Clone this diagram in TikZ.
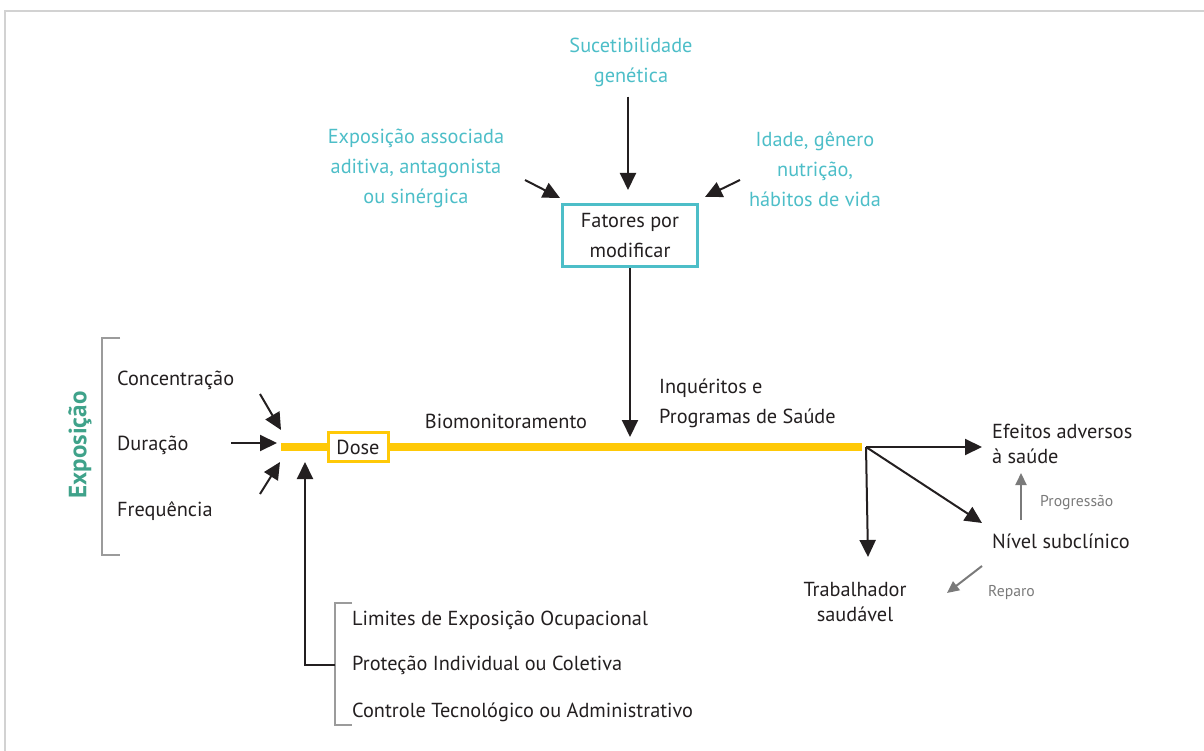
\documentclass[tikz,border=0pt]{standalone}
\usepackage{fontspec}
\setmainfont{PT Sans}
\usetikzlibrary{arrows.meta,positioning,calc}
\definecolor{txtdark}{HTML}{231F20}
\definecolor{modcyan}{HTML}{4DBEC8}
\definecolor{expgreen}{HTML}{3FA28A}
\definecolor{doseyellow}{HTML}{FFC907}
\definecolor{brackgray}{HTML}{9B9B9B}
\definecolor{arrgray}{HTML}{7A7A7A}

\tikzset{
  lbl/.style={font=\fontsize{20.3}{30}\selectfont, text=txtdark, inner sep=0pt},
  modlbl/.style={lbl, text=modcyan, align=center},
  smalllbl/.style={font=\fontsize{15.7}{18}\selectfont, text=arrgray, inner sep=0pt},
  arr/.style={-{Triangle[length=17pt,width=16pt]}, line width=2pt, txtdark},
  grayarr/.style={-{Triangle[length=12pt,width=11pt]}, line width=2pt, arrgray},
  brack/.style={brackgray, line width=2pt}
}

\begin{document}
\begin{tikzpicture}[x=1pt,y=-1pt]
    \useasboundingbox (0,0) rectangle (1204,751);
    % Frame
    \draw[gray!35, line width=1.5pt] (5,751) -- (5,11) -- (1204,11);

    % Modifying factors
    \node[modlbl] (genetica) at (631,62) {Sucetibilidade\\genética};
    \node[modlbl] (associada) at (416,168) {Exposição associada\\aditiva, antagonista\\ou sinérgica};
    \node[modlbl] (idade) at (815,169) {Idade, gênero\\nutrição,\\hábitos de vida};
    \node[lbl, draw=modcyan, line width=3pt, align=center, minimum width=135pt, minimum height=62pt,
          font=\fontsize{20.3}{30}\selectfont] (fatores) at (630,236) {Fatores por\\modificar};

    \coordinate (gtip) at (628,190);
    \coordinate (atail) at (525,180);
    \coordinate (atip) at (560,198);
    \coordinate (itail) at (740,180);
    \coordinate (itip) at (705,197);
    \draw[arr] (genetica.south) ++(-3,10) -- (gtip);
    \draw[arr] (atail) -- (atip);
    \draw[arr] (itail) -- (itip);

    % Dose line
    \coordinate (linestart) at (281,447);
    \coordinate (lineend) at (866,447);
    \draw[doseyellow, line width=8pt] (linestart) -- (862,447);
    \node[lbl, draw=doseyellow, fill=white, line width=3pt, minimum width=60pt, minimum height=29pt] (dose) at (358,447) {Dose};
    \node[lbl] (biomon) at (506,421) {Biomonitoramento};
    \node[lbl, anchor=west, align=left] (inqueritos) at (659,403) {Inquéritos e\\Programas de Saúde};
    \coordinate (ftip) at (630,437);
    \draw[arr] (fatores.south) -- (ftip);

    % Exposure
    \node[lbl, anchor=west] (concentracao) at (117,380) {Concentração};
    \node[lbl, anchor=west] (duracao) at (117,445) {Duração};
    \node[lbl, anchor=west] (frequencia) at (117,511) {Frequência};
    \node[lbl, text=expgreen, font=\fontsize{25}{28}\selectfont\bfseries, rotate=90] (exposicao) at (80,445) {Exposição};
    \draw[brack] (120,338) -- (102,338) -- (102,555) -- (120,555);
    \draw[arr] (260,394) -- (281,430);
    \draw[arr] (231,443) -- (277,443);
    \draw[arr] (260,494) -- (280,462);

    % Control measures
    \node[lbl, anchor=west] (limites) at (352,620) {Limites de Exposição Ocupacional};
    \node[lbl, anchor=west] (protecao) at (352,665) {Proteção Individual ou Coletiva};
    \node[lbl, anchor=west] (controle) at (352,712) {Controle Tecnológico ou Administrativo};
    \draw[brack] (352,603) -- (335,603) -- (335,725) -- (352,725);
    \coordinate (ctail) at (335,665);
    \coordinate (ctip) at (305,462);
    \draw[arr] (ctail) -| (ctip);

    % Outcomes
    \node[lbl, anchor=west, align=left, font=\fontsize{20.3}{25}\selectfont] (efeitos) at (992,444) {Efeitos adversos\\à saúde};
    \node[lbl, anchor=west] (subclinico) at (992,541) {Nível subclínico};
    \node[lbl, align=center, font=\fontsize{20.3}{25}\selectfont] (saudavel) at (855,602) {Trabalhador\\saudável};
    \draw[arr] (lineend) -- (982,447);
    \draw[arr] (lineend) -- (868,557);
    \draw[arr] (lineend) -- (982,523);

    \node[smalllbl, anchor=west] (progressao) at (1040,503) {Progressão};
    \node[smalllbl, anchor=west] (reparo) at (988,593) {Reparo};
    \draw[grayarr] (1021,520) -- (1021,473);
    \draw[grayarr] (982,566) -- (947,593);
\end{tikzpicture}
\end{document}
